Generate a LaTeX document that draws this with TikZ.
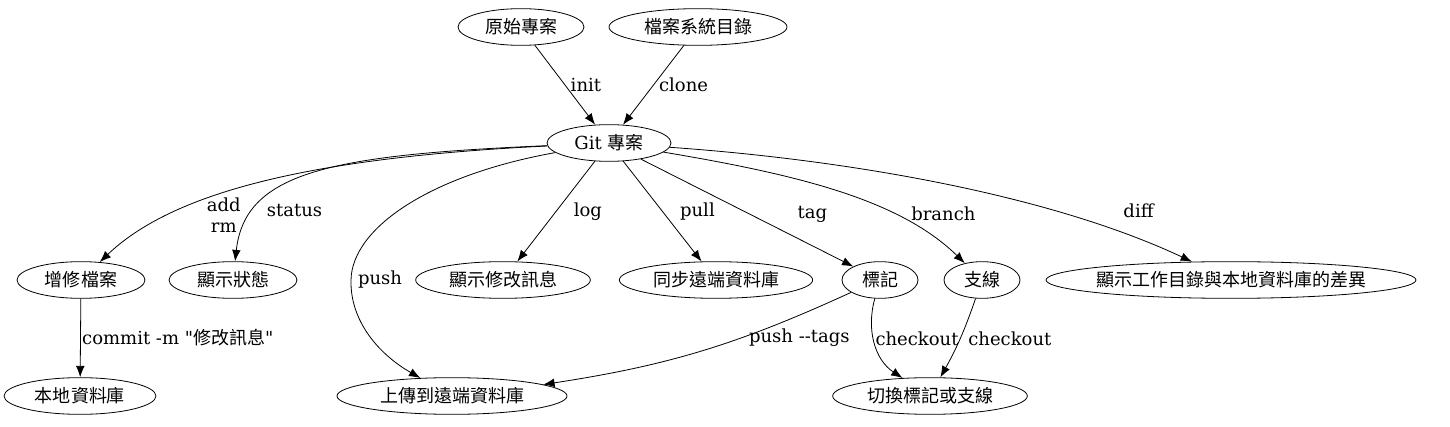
\documentclass[tikz,border=0pt]{standalone}
\usepackage{fontspec}
\setmainfont{DejaVu Serif}[Ligatures=TeXOff]
\newfontfamily\cjk{Noto Sans CJK TC}
\newcommand{\zh}[1]{{\cjk #1}}
\usetikzlibrary{arrows.meta,shapes.geometric}

\begin{document}
\begin{tikzpicture}[x=0.75pt,y=-0.75pt,->,>={Latex[length=8.5pt,width=6.5pt]},semithick,font=\fontsize{13.5}{16}\selectfont]
	\tikzstyle{state}=[draw, ellipse, minimum height=27.5pt, inner sep=1pt]
	\tikzstyle{lbl}=[inner sep=1pt]
	\useasboundingbox (0,0) rectangle (1450,427);
	% top row
	\node[state, minimum width=94.5pt]  (orig) at (521,27) {\zh{原始專案}};
	\node[state, minimum width=133.5pt] (fsdir) at (698,27) {\zh{檔案系統目錄}};
	\node[state, minimum width=93pt]    (git) at (609,143) {Git \zh{專案}};
	% commands
	\node[state, minimum width=96pt]    (edit) at (81,280) {\zh{增修檔案}};
	\node[state, minimum width=96pt]    (status) at (233,280) {\zh{顯示狀態}};
	\node[state, minimum width=131pt]   (log) at (503,280) {\zh{顯示修改訊息}};
	\node[state, minimum width=145pt]   (pull) at (716,280) {\zh{同步遠端資料庫}};
	\node[state, minimum width=57pt]    (tag) at (880,280) {\zh{標記}};
	\node[state, minimum width=57pt]    (branch) at (982,280) {\zh{支線}};
	\node[state, minimum width=277.5pt, inner xsep=-6pt] (diff) at (1231,280) {\zh{顯示工作目錄與本地資料庫的差異}};
	% bottom row
	\node[state, minimum width=114pt]   (local) at (80,396) {\zh{本地資料庫}};
	\node[state, minimum width=172.5pt] (upload) at (452,396) {\zh{上傳到遠端資料庫}};
	\node[state, minimum width=146pt]   (switch) at (930,396) {\zh{切換標記或支線}};
	\path
		(orig) edge node[lbl, anchor=west, xshift=3pt] {init} (git)
		(fsdir) edge node[lbl, anchor=west, xshift=3pt] {clone} (git)
		(git) edge node[lbl, anchor=west, xshift=12pt] {log} (log)
		(git) edge node[lbl, anchor=west, xshift=12pt] {pull} (pull)
		(git) edge node[lbl, anchor=south west, pos=0.73, yshift=10pt] {tag} (tag)
		(edit) edge node[lbl, anchor=west] {commit -m "\zh{修改訊息}"} (local)
		(tag) edge[bend left=8] node[lbl, anchor=north, pos=0.16, yshift=-9pt] {push --tags} (upload)
		(branch) edge[bend left=5] node[lbl, anchor=west, xshift=5pt] {checkout} (switch);
	\draw (git) .. controls (300,158) and (170,195) .. (edit) node[lbl, align=center, anchor=north west, pos=0.63, yshift=3pt] {add\\rm};
	\draw (git) .. controls (330,155) and (245,172) .. (status) node[lbl, anchor=west, pos=0.77, xshift=8pt] {status};
	\draw (git) .. controls (430,175) and (352,228) .. (351,280) node[lbl, anchor=west, xshift=4pt] {push} .. controls (350,322) and (380,355) .. (upload);
	\draw (git) .. controls (800,175) and (900,200) .. (branch) node[lbl, anchor=south west, pos=0.75] {branch};
	\draw (git) .. controls (850,160) and (1050,195) .. (diff) node[lbl, anchor=south, pos=0.88, yshift=15pt] {diff};
	\draw (tag) .. controls (866,330) and (875,360) .. (switch) node[lbl, anchor=west, pos=0.45] {checkout};
\end{tikzpicture}
\end{document}
